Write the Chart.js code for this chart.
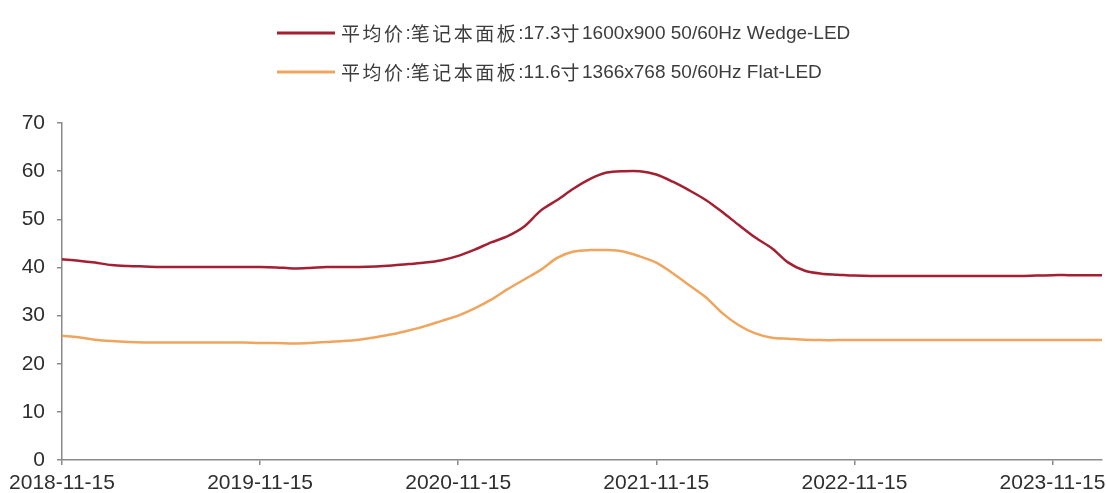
<!DOCTYPE html>
<html>
<head>
<meta charset="utf-8">
<script src="https://cdn.jsdelivr.net/npm/chart.js@4.4.0/dist/chart.umd.min.js"></script>
<style>
  html, body { margin: 0; padding: 0; background: #fff; }
  #wrap { width: 1107px; height: 493px; }
</style>
</head>
<body>
<div id="wrap"><canvas id="lineChart"></canvas></div>
<script>
var months = [
  '2018-11-15', '2018-12-15', '2019-01-15', '2019-02-15', '2019-03-15', '2019-04-15', '2019-05-15', '2019-06-15', '2019-07-15', '2019-08-15', '2019-09-15', '2019-10-15',
  '2019-11-15', '2019-12-15', '2020-01-15', '2020-02-15', '2020-03-15', '2020-04-15', '2020-05-15', '2020-06-15', '2020-07-15', '2020-08-15', '2020-09-15', '2020-10-15',
  '2020-11-15', '2020-12-15', '2021-01-15', '2021-02-15', '2021-03-15', '2021-04-15', '2021-05-15', '2021-06-15', '2021-07-15', '2021-08-15', '2021-09-15', '2021-10-15',
  '2021-11-15', '2021-12-15', '2022-01-15', '2022-02-15', '2022-03-15', '2022-04-15', '2022-05-15', '2022-06-15', '2022-07-15', '2022-08-15', '2022-09-15', '2022-10-15',
  '2022-11-15', '2022-12-15', '2023-01-15', '2023-02-15', '2023-03-15', '2023-04-15', '2023-05-15', '2023-06-15', '2023-07-15', '2023-08-15', '2023-09-15', '2023-10-15',
  '2023-11-15', '2023-12-15', '2024-01-15', '2024-02-15'
];

var tickLabels = ['2018-11-15', '2019-11-15', '2020-11-15', '2021-11-15', '2022-11-15', '2023-11-15'];

var wedgeName = '平均价:笔记本面板:17.3寸1600x900 50/60Hz Wedge-LED';
var wedgePrice = [
  41.7, 41.4, 41.0, 40.5, 40.3, 40.2, 40.1, 40.1, 40.1, 40.1, 40.1, 40.1,
  40.1, 40.0, 39.8, 39.9, 40.1, 40.1, 40.1, 40.2, 40.4, 40.7, 41.0, 41.5,
  42.4, 43.7, 45.2, 46.5, 48.5, 51.8, 54.0, 56.4, 58.4, 59.7, 60.0, 60.0,
  59.3, 57.8, 56.0, 54.0, 51.5, 48.8, 46.2, 44.0, 41.0, 39.3, 38.7, 38.5,
  38.3, 38.2, 38.2, 38.2, 38.2, 38.2, 38.2, 38.2, 38.2, 38.2, 38.2, 38.3,
  38.4, 38.4, 38.4, 38.4
];

var flatName = '平均价:笔记本面板:11.6寸1366x768 50/60Hz Flat-LED';
var flatPrice = [
  25.8, 25.5, 25.0, 24.7, 24.5, 24.4, 24.4, 24.4, 24.4, 24.4, 24.4, 24.4,
  24.3, 24.3, 24.2, 24.3, 24.5, 24.7, 25.0, 25.5, 26.1, 26.9, 27.8, 28.9,
  30.0, 31.5, 33.3, 35.5, 37.5, 39.5, 42.0, 43.3, 43.6, 43.6, 43.3, 42.3,
  41.0, 38.8, 36.3, 33.8, 30.5, 28.0, 26.3, 25.4, 25.2, 25.0, 24.9, 24.9,
  24.9, 24.9, 24.9, 24.9, 24.9, 24.9, 24.9, 24.9, 24.9, 24.9, 24.9, 24.9,
  24.9, 24.9, 24.9, 24.9
];

var axisGray = '#8a8a8a';

// legend drawn as two left-aligned rows, CJK glyphs spaced wider than latin
function drawMixed(ctx, text, x, y) {
  ctx.fillStyle = '#3c3c3c';
  ctx.textBaseline = 'middle';
  ctx.textAlign = 'left';
  for (var ch of text) {
    if (ch.charCodeAt(0) > 0x2e80) {
      ctx.font = '19px "Noto Sans CJK SC"';
      ctx.fillText(ch, x, y);
      x += 21.5;
    } else {
      ctx.font = '19px "Liberation Sans", Arial';
      ctx.fillText(ch, x, y);
      x += ctx.measureText(ch).width;
    }
  }
}

var rowLegend = {
  id: 'rowLegend',
  afterDraw: function(chart) {
    var ctx = chart.ctx;
    chart.data.datasets.forEach(function(ds, i) {
      var y = 33 + i * 39;
      ctx.save();
      ctx.strokeStyle = ds.borderColor;
      ctx.lineWidth = 3;
      ctx.beginPath();
      ctx.moveTo(277, y);
      ctx.lineTo(335, y);
      ctx.stroke();
      drawMixed(ctx, ds.label, 341, y + 1);
      ctx.restore();
    });
  }
};

var ctx = document.getElementById('lineChart').getContext('2d');
var chart = new Chart(ctx, {
  type: 'line',
  data: {
    labels: months,
    datasets: [{
      label: wedgeName,
      data: wedgePrice,
      borderColor: '#a31f32',
      borderWidth: 2.5,
      pointRadius: 0,
      tension: 0.3,
      fill: false
    }, {
      label: flatName,
      data: flatPrice,
      borderColor: '#efa55e',
      borderWidth: 2.5,
      pointRadius: 0,
      tension: 0.3,
      fill: false
    }]
  },
  options: {
    responsive: true,
    maintainAspectRatio: false,
    animation: false,
    layout: {
      padding: {top: 123, right: 5, bottom: 0, left: 0}
    },
    plugins: {
      legend: {display: false},
      tooltip: {enabled: false}
    },
    scales: {
      x: {
        type: 'category',
        offset: false,
        afterBuildTicks: function(scale) {
          scale.ticks = scale.ticks.filter(function(t) {
            return tickLabels.indexOf(months[t.value]) !== -1;
          });
        },
        afterFit: function(scale) {
          scale.height = 33;
          scale.paddingLeft = 0;
          scale.paddingRight = 0;
        },
        grid: {
          drawOnChartArea: false,
          drawTicks: true,
          tickLength: 5,
          color: axisGray,
          lineWidth: 1.5
        },
        border: {display: true, color: axisGray, width: 1.5},
        ticks: {
          autoSkip: false,
          maxRotation: 0,
          padding: 6,
          color: '#2e2e2e',
          font: {family: '"Liberation Sans", Arial', size: 21}
        }
      },
      y: {
        min: 0,
        max: 70,
        afterFit: function(scale) {
          scale.width = 62;
        },
        grid: {
          drawOnChartArea: false,
          drawTicks: true,
          tickLength: 5,
          color: axisGray,
          lineWidth: 1.5
        },
        border: {display: true, color: axisGray, width: 1.5},
        ticks: {
          stepSize: 10,
          padding: 12,
          color: '#2e2e2e',
          font: {family: '"Liberation Sans", Arial', size: 21}
        }
      }
    }
  },
  plugins: [rowLegend]
});
</script>
</body>
</html>
